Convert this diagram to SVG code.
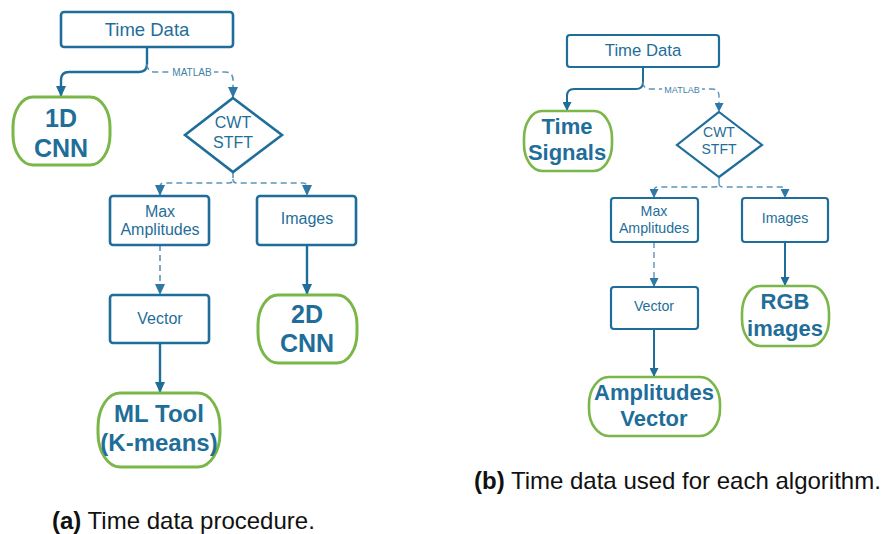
<svg xmlns="http://www.w3.org/2000/svg" width="882" height="534" viewBox="0 0 882 534">
<defs>
<style>
.box{fill:#fff;stroke:#1f6e9a;stroke-width:2.6}
.pill{fill:#fff;stroke:#7ab648;stroke-width:3}
.t{font-family:"Liberation Sans",Arial,sans-serif;fill:#1f6e9a;text-anchor:middle}
.b{font-weight:bold}
.solid{fill:none;stroke:#1f6e9a;stroke-width:2.4}
.dash{fill:none;stroke:#5d94ba;stroke-width:1.6;stroke-dasharray:6,4}
.lbl{font-family:"Liberation Sans",Arial,sans-serif;fill:#3f7fa8;text-anchor:middle}
.cap{font-family:"Liberation Sans",Arial,sans-serif;fill:#111;font-size:24px}
</style>
<marker id="as" markerWidth="12" markerHeight="10" refX="11" refY="5" orient="auto" markerUnits="userSpaceOnUse"><path d="M0,0 L11,5 L0,10 z" fill="#1f6e9a"/></marker>
<marker id="ad" markerWidth="12" markerHeight="10" refX="11" refY="5" orient="auto" markerUnits="userSpaceOnUse"><path d="M0,0 L11,5 L0,10 z" fill="#2f78a6"/></marker>
<marker id="as2" markerWidth="10" markerHeight="9" refX="9" refY="4.5" orient="auto" markerUnits="userSpaceOnUse"><path d="M0,0 L9,4.5 L0,9 z" fill="#1f6e9a"/></marker>
<marker id="ad2" markerWidth="10" markerHeight="9" refX="9" refY="4.5" orient="auto" markerUnits="userSpaceOnUse"><path d="M0,0 L9,4.5 L0,9 z" fill="#2f78a6"/></marker>
</defs>
<rect width="882" height="534" fill="#fff"/>

<g id="connectors">
<!-- left -->
<path class="solid" d="M147,47 V64 Q147,72 139,72 H69 Q61,72 61,80 V97" marker-end="url(#as)"/>
<path class="dash" d="M147,64 Q147,72 155,72 H225 Q233,72 233,80 V98" marker-end="url(#ad)"/>
<rect x="170" y="67" width="44" height="10" fill="#fff"/>
<text class="lbl" x="192" y="76" font-size="10">MATLAB</text>
<path class="dash" d="M233,172 V179 Q233,183 229,183 H164 Q160,183 160,187 V196" marker-end="url(#ad)"/>
<path class="dash" d="M233,179 Q233,183 237,183 H303 Q307,183 307,187 V196" marker-end="url(#ad)"/>
<path class="dash" d="M160,245 V295" marker-end="url(#ad)"/>
<path class="solid" d="M160,343 V393" marker-end="url(#as)"/>
<path class="solid" d="M307,245 V295" marker-end="url(#as)"/>
<!-- right -->
<path class="solid" style="stroke-width:2" d="M643,67 V82 Q643,89 636,89 H574 Q567,89 567,96 V111" marker-end="url(#as2)"/>
<path class="dash" style="stroke-width:1.4" d="M643,82 Q643,89 650,89 H712 Q719,89 719,96 V112" marker-end="url(#ad2)"/>
<rect x="662" y="84" width="40" height="10" fill="#fff"/>
<text class="lbl" x="682" y="92.5" font-size="9">MATLAB</text>
<path class="dash" style="stroke-width:1.4" d="M719,177 V183 Q719,187 715,187 H658 Q654,187 654,191 V198" marker-end="url(#ad2)"/>
<path class="dash" style="stroke-width:1.4" d="M719,183 Q719,187 723,187 H781 Q785,187 785,191 V198" marker-end="url(#ad2)"/>
<path class="dash" style="stroke-width:1.4" d="M654,242 V287" marker-end="url(#ad2)"/>
<path class="solid" style="stroke-width:2" d="M654,329 V377" marker-end="url(#as2)"/>
<path class="solid" style="stroke-width:2" d="M785,242 V286" marker-end="url(#as2)"/>
</g>

<!-- (a) -->
<g id="a-timedata">
<rect class="box" x="61" y="12" width="172" height="35" rx="3"/>
<text class="t" x="147" y="36" font-size="18.5">Time Data</text>
</g>
<g id="a-1dcnn">
<rect class="pill" x="13" y="97" width="97" height="68" rx="20" ry="30"/>
<text class="t b" x="61" y="127" font-size="25">1D</text>
<text class="t b" x="61" y="157" font-size="25">CNN</text>
</g>
<g id="a-cwt">
<path class="box" d="M233,98 L282,135 L233,172 L185,135 Z"/>
<text class="t" x="233" y="128" font-size="16">CWT</text>
<text class="t" x="233" y="148" font-size="16">STFT</text>
</g>
<g id="a-maxamp">
<rect class="box" x="110" y="196" width="99" height="49" rx="3"/>
<text class="t" x="160" y="217" font-size="16">Max</text>
<text class="t" x="160" y="235" font-size="16">Amplitudes</text>
</g>
<g id="a-images">
<rect class="box" x="257" y="196" width="99" height="49" rx="3"/>
<text class="t" x="307" y="224" font-size="16">Images</text>
</g>
<g id="a-vector">
<rect class="box" x="110" y="295" width="99" height="48" rx="3"/>
<text class="t" x="160" y="324" font-size="16">Vector</text>
</g>
<g id="a-mltool">
<rect class="pill" x="98" y="393" width="122" height="74" rx="22" ry="34"/>
<text class="t b" x="159" y="422" font-size="24">ML Tool</text>
<text class="t b" x="159" y="451" font-size="24">(K-means)</text>
</g>
<g id="a-2dcnn">
<rect class="pill" x="258" y="295" width="99" height="68" rx="20" ry="30"/>
<text class="t b" x="307" y="323" font-size="25">2D</text>
<text class="t b" x="307" y="352" font-size="25">CNN</text>
</g>

<!-- (b) -->
<g id="b-timedata">
<rect class="box" style="stroke-width:2.2" x="567" y="35" width="152" height="32" rx="3"/>
<text class="t" x="643" y="56" font-size="16.7">Time Data</text>
</g>
<g id="b-timesignals">
<rect class="pill" style="stroke-width:2.6" x="524" y="111" width="88" height="60" rx="18" ry="27"/>
<text class="t b" x="567" y="134" font-size="22">Time</text>
<text class="t b" x="567" y="160" font-size="22">Signals</text>
</g>
<g id="b-cwt">
<path class="box" style="stroke-width:2.2" d="M719,112 L762,145 L719,177 L677,145 Z"/>
<text class="t" x="719" y="137" font-size="14">CWT</text>
<text class="t" x="719" y="154" font-size="14">STFT</text>
</g>
<g id="b-maxamp">
<rect class="box" style="stroke-width:2.2" x="611" y="198" width="87" height="44" rx="3"/>
<text class="t" x="654" y="216" font-size="14.2">Max</text>
<text class="t" x="654" y="233" font-size="14.2">Amplitudes</text>
</g>
<g id="b-images">
<rect class="box" style="stroke-width:2.2" x="742" y="198" width="86" height="44" rx="3"/>
<text class="t" x="785" y="223" font-size="14.2">Images</text>
</g>
<g id="b-vector">
<rect class="box" style="stroke-width:2.2" x="611" y="287" width="87" height="42" rx="3"/>
<text class="t" x="654" y="311" font-size="14.2">Vector</text>
</g>
<g id="b-ampvector">
<rect class="pill" style="stroke-width:2.6" x="589" y="377" width="131" height="59" rx="20" ry="27"/>
<text class="t b" x="654" y="400" font-size="22">Amplitudes</text>
<text class="t b" x="654" y="426" font-size="22">Vector</text>
</g>
<g id="b-rgb">
<rect class="pill" style="stroke-width:2.6" x="742" y="286" width="87" height="60" rx="18" ry="27"/>
<text class="t b" x="785" y="309" font-size="22">RGB</text>
<text class="t b" x="785" y="336" font-size="22">images</text>
</g>

<!-- captions -->
<text class="cap" x="52" y="529"><tspan font-weight="bold">(a)</tspan> Time data procedure.</text>
<text class="cap" x="474" y="489"><tspan font-weight="bold">(b)</tspan> Time data used for each algorithm.</text>
</svg>
